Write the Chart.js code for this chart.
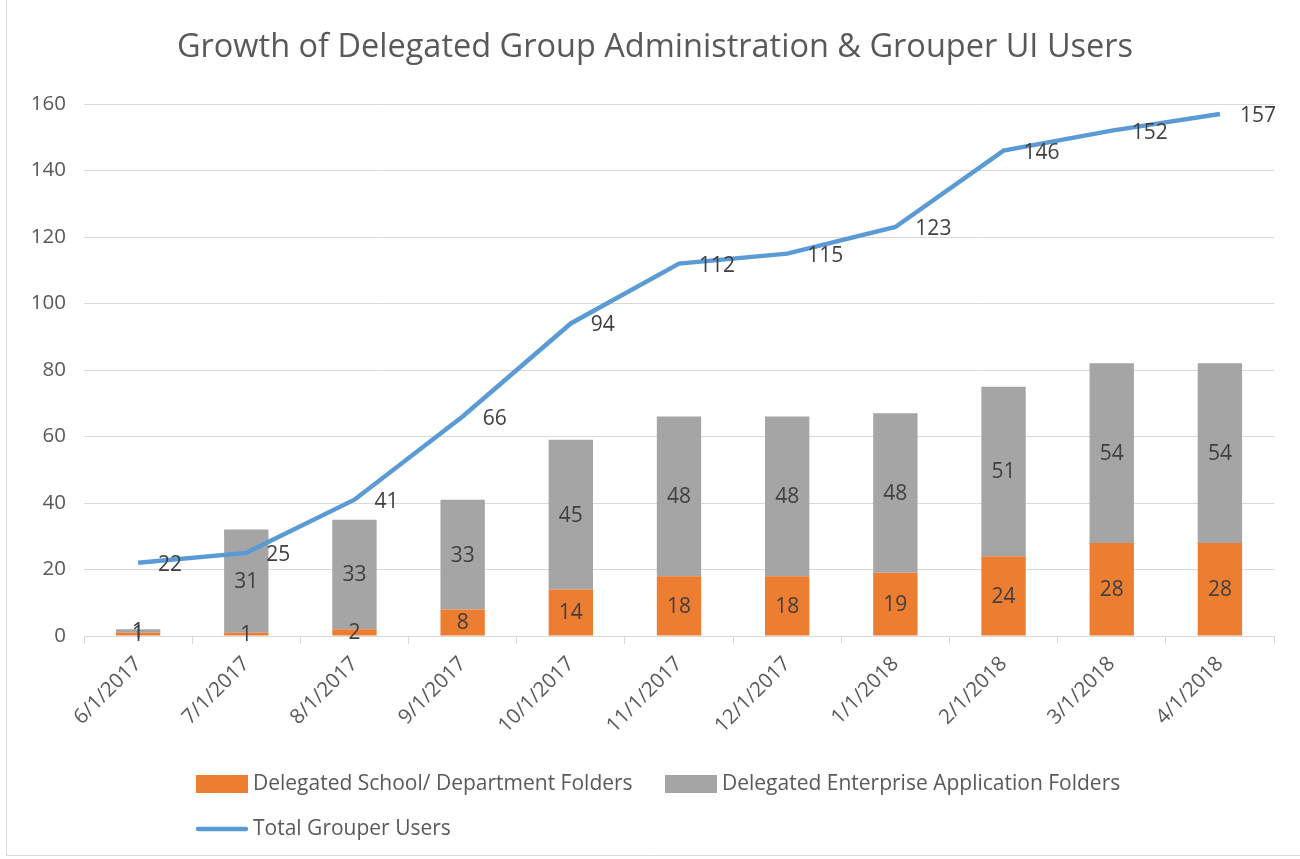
<!DOCTYPE html>
<html>
<head>
<meta charset="utf-8">
<script src="https://cdn.jsdelivr.net/npm/chart.js@4/dist/chart.umd.min.js"></script>
<style>
  html, body { margin: 0; padding: 0; background: #fff; }
  #wrap { width: 1300px; height: 859px; position: relative; }
</style>
</head>
<body>
<div id="wrap"><canvas id="growthChart" width="1300" height="859"></canvas></div>
<script>
// --- Data ---
const chartTitle = 'Growth of Delegated Group Administration & Grouper UI Users';
const dates = ['6/1/2017', '7/1/2017', '8/1/2017', '9/1/2017', '10/1/2017', '11/1/2017',
               '12/1/2017', '1/1/2018', '2/1/2018', '3/1/2018', '4/1/2018'];
const schoolFolders = [1, 1, 2, 8, 14, 18, 18, 19, 24, 28, 28];
const enterpriseFolders = [1, 31, 33, 33, 45, 48, 48, 48, 51, 54, 54];
const totalUsers = [22, 25, 41, 66, 94, 112, 115, 123, 146, 152, 157];
const yTicks = [0, 20, 40, 60, 80, 100, 120, 140, 160];

const FONT = "'Open Sans', 'Noto Sans', sans-serif";
const TEXT = '#595959';
const LABEL = '#404040';

Chart.defaults.font.family = FONT;
Chart.defaults.color = TEXT;

// --- Plugins ---
// value labels: centred on bar segments, to the right of line points
const valueLabels = {
    id: 'valueLabels',
    afterDatasetsDraw(chart) {
        const ctx = chart.ctx;
        ctx.save();
        ctx.font = '21px ' + FONT;
        ctx.fillStyle = LABEL;
        ctx.textBaseline = 'middle';
        chart.data.datasets.forEach((ds, i) => {
            const meta = chart.getDatasetMeta(i);
            meta.data.forEach((el, j) => {
                const v = ds.data[j];
                if (ds.type === 'line') {
                    ctx.textAlign = 'left';
                    ctx.fillText(v, el.x + 20, el.y + 2);
                } else {
                    ctx.textAlign = 'center';
                    ctx.fillText(v, el.x, (el.y + el.base) / 2 + 1);
                }
            });
        });
        ctx.restore();
    }
};

// title (centred on the framed box), legend in two rows, faint outer frame
const decorations = {
    id: 'decorations',
    afterDraw(chart) {
        const ctx = chart.ctx;
        const ds = chart.data.datasets;
        ctx.save();
        ctx.fillStyle = TEXT;
        ctx.font = '32.5px ' + FONT;
        ctx.textAlign = 'center';
        ctx.textBaseline = 'middle';
        ctx.fillText(chartTitle, 655, 48);

        const items = [
            { d: ds[1], x: 196, y: 784 },
            { d: ds[2], x: 665, y: 784 },
            { d: ds[0], x: 196, y: 829 }
        ];
        ctx.font = '21px ' + FONT;
        ctx.textAlign = 'left';
        items.forEach(it => {
            if (it.d.type === 'line') {
                ctx.strokeStyle = it.d.borderColor;
                ctx.lineWidth = 4.5;
                ctx.lineCap = 'round';
                ctx.beginPath();
                ctx.moveTo(it.x + 2, it.y);
                ctx.lineTo(it.x + 50, it.y);
                ctx.stroke();
            } else {
                ctx.fillStyle = it.d.backgroundColor;
                ctx.fillRect(it.x, it.y - 9, 52, 18);
            }
            ctx.fillStyle = TEXT;
            ctx.fillText(it.d.label, it.x + 57, it.y);
        });
        ctx.strokeStyle = '#d9d9d9';
        ctx.lineWidth = 1;
        ctx.beginPath();
        ctx.moveTo(6.5, 0);
        ctx.lineTo(6.5, 855.5);
        ctx.lineTo(1300, 855.5);
        ctx.stroke();
        ctx.restore();
    }
};

// --- Chart ---
new Chart(document.getElementById('growthChart'), {
    data: {
        labels: dates,
        datasets: [
            {
                type: 'line',
                label: 'Total Grouper Users',
                data: totalUsers,
                borderColor: '#5B9BD5',
                backgroundColor: '#5B9BD5',
                borderWidth: 4.5,
                pointRadius: 0,
                tension: 0,
                stack: 'line',
                order: 0
            },
            {
                type: 'bar',
                label: 'Delegated School/ Department Folders',
                data: schoolFolders,
                backgroundColor: '#ED7D31',
                stack: 'folders',
                order: 1,
                barPercentage: 0.41,
                categoryPercentage: 1
            },
            {
                type: 'bar',
                label: 'Delegated Enterprise Application Folders',
                data: enterpriseFolders,
                backgroundColor: '#A5A5A5',
                stack: 'folders',
                order: 1,
                barPercentage: 0.41,
                categoryPercentage: 1
            }
        ]
    },
    options: {
        responsive: false,
        animation: false,
        layout: { padding: { top: 104, left: 6, right: 26, bottom: 93 } },
        plugins: {
            legend: { display: false },
            tooltip: { enabled: false },
            title: { display: false }
        },
        scales: {
            x: {
                stacked: true,
                offset: true,
                grid: {
                    offset: true,
                    drawOnChartArea: false,
                    color: '#d9d9d9',
                    tickLength: 8
                },
                border: { color: '#d9d9d9' },
                ticks: {
                    minRotation: 45,
                    maxRotation: 45,
                    color: TEXT,
                    font: { size: 20.5 },
                    padding: 8
                },
                afterFit(scale) { scale.height = 130; }
            },
            y: {
                stacked: true,
                min: yTicks[0],
                max: yTicks[yTicks.length - 1],
                afterBuildTicks(scale) { scale.ticks = yTicks.map(v => ({ value: v })); },
                grid: { color: '#d9d9d9', drawTicks: false },
                border: { display: false },
                ticks: { color: TEXT, font: { size: 20.5 }, padding: 18 },
                afterFit(scale) { scale.width = 78; }
            }
        }
    },
    plugins: [valueLabels, decorations]
});
</script>
</body>
</html>
